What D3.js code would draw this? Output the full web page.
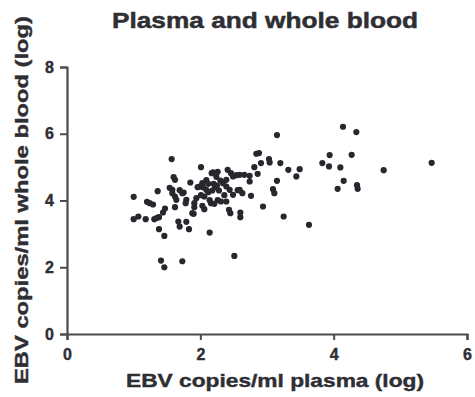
<!DOCTYPE html>
<html>
<head>
<meta charset="utf-8">
<script src="https://cdn.jsdelivr.net/npm/d3@7"></script>
<style>
  body { margin: 0; background: #fff; }
  text { font-family: "Liberation Sans", Arial, sans-serif; font-weight: bold; fill: #2e2e33; }
</style>
</head>
<body>
<script>
const title = "Plasma and whole blood";
const xLabel = "EBV copies/ml plasma (log)";
const yLabel = "EBV copies/ml whole blood (log)";
const xTicks = [0, 2, 4, 6];
const yTicks = [0, 2, 4, 6, 8];

const plasma = [
  1.00,1.00,1.07,1.18,1.20,1.24,1.29,1.36,1.31,1.38,1.44,1.47,1.38,1.46,1.41,1.46,1.73,1.57,1.60,1.62,
  1.54,1.58,1.62,1.64,1.62,1.67,1.69,1.79,1.83,1.75,1.79,1.78,1.85,1.94,1.91,1.90,2.01,1.99,2.04,2.09,
  2.06,2.03,2.06,2.14,2.16,2.21,2.19,2.26,2.20,2.22,2.25,2.18,2.12,2.31,2.39,2.34,2.39,2.41,2.46,2.49,
  2.39,2.44,2.49,2.43,2.45,2.51,2.59,2.66,2.74,2.74,2.59,2.63,2.60,2.60,2.76,2.81,2.84,2.88,2.91,2.86,
  2.94,3.03,3.04,3.09,3.11,3.15,3.15,3.20,3.25,3.32,3.44,3.49,3.63,3.83,3.93,3.94,4.06,4.10,4.14,4.15,
  4.27,4.34,4.35,4.36,4.75,5.47,
  1.73,1.96,2.03,2.09,2.17,2.24,2.54,2.01,2.14,2.26,2.36,2.56,1.91,1.88,1.69,1.58,1.35,2.30,2.12,2.28
];
const wholeBlood = [
  4.11,3.44,3.52,3.44,3.96,3.92,3.88,4.28,3.44,3.50,3.64,3.76,3.14,2.94,2.20,2.00,2.18,5.24,4.70,4.62,
  4.38,4.32,4.12,4.02,3.80,3.37,3.22,3.36,3.14,4.24,4.02,3.92,4.54,4.07,3.80,3.60,5.00,4.42,4.40,4.32,
  4.12,3.84,3.74,3.04,3.92,3.90,4.84,4.86,4.50,4.40,4.45,4.30,4.25,3.97,3.97,4.52,4.62,4.92,4.82,4.72,
  4.42,4.32,4.17,3.72,3.62,2.34,4.77,4.77,4.74,4.57,4.32,4.22,3.64,3.50,4.14,5.00,5.40,5.42,5.12,4.80,
  3.82,5.24,5.14,4.34,4.22,5.96,4.59,5.12,3.52,4.92,4.72,4.94,3.27,5.12,5.02,5.36,4.35,4.99,6.21,4.59,
  5.37,6.05,4.46,4.35,4.91,5.13,
  4.22,4.40,4.52,4.61,4.82,4.71,4.76,4.16,4.01,4.01,4.16,4.31,3.92,3.62,4.31,4.22,3.48,4.60,4.50,4.30
];

const W = 475, H = 397;
const svg = d3.select("body").append("svg").attr("width", W).attr("height", H);

const x = d3.scaleLinear().domain([0, 6]).range([67, 467]);
const y = d3.scaleLinear().domain([0, 8]).range([334, 67]);

const axisColor = "#4a4a4f";
const textColor = "#2e2e33";

const gx = svg.append("g").attr("transform", `translate(0,${y(0)})`)
  .call(d3.axisBottom(x).tickValues(xTicks).tickSize(6).tickPadding(5).tickFormat(d3.format("d")));
const gy = svg.append("g").attr("transform", `translate(${x(0)},0)`)
  .call(d3.axisLeft(y).tickValues(yTicks).tickSize(7).tickPadding(6).tickFormat(d3.format("d")));

[gx, gy].forEach(g => {
  g.select(".domain").attr("stroke", axisColor).attr("stroke-width", 2.2);
  g.selectAll(".tick line").attr("stroke", axisColor).attr("stroke-width", 2);
  g.selectAll(".tick text").style("font-size", "16px").style("font-weight", "bold")
    .attr("fill", textColor).attr("stroke", textColor).attr("stroke-width", 0.4)
    .style("font-family", "'Liberation Sans', Arial, sans-serif");
});
gx.selectAll(".tick text").attr("dy", "0.95em");

svg.append("g").selectAll("circle")
  .data(plasma.map((p, i) => [p, wholeBlood[i]]))
  .join("circle")
  .attr("cx", d => x(d[0]))
  .attr("cy", d => y(d[1]))
  .attr("r", 3.1)
  .attr("fill", "#26282e");

svg.append("text")
  .attr("x", 265).attr("y", 28)
  .attr("text-anchor", "middle")
  .attr("textLength", 306).attr("lengthAdjust", "spacingAndGlyphs")
  .attr("stroke", textColor).attr("stroke-width", 0.5)
  .style("font-size", "22.5px")
  .text(title);

svg.append("text")
  .attr("x", 275).attr("y", 387)
  .attr("text-anchor", "middle")
  .attr("textLength", 298).attr("lengthAdjust", "spacingAndGlyphs")
  .attr("stroke", textColor).attr("stroke-width", 0.4)
  .style("font-size", "18.5px")
  .text(xLabel);

svg.append("text")
  .attr("transform", "translate(28,200) rotate(-90)")
  .attr("text-anchor", "middle")
  .attr("textLength", 368).attr("lengthAdjust", "spacingAndGlyphs")
  .attr("stroke", textColor).attr("stroke-width", 0.4)
  .style("font-size", "19px")
  .text(yLabel);
</script>
</body>
</html>
